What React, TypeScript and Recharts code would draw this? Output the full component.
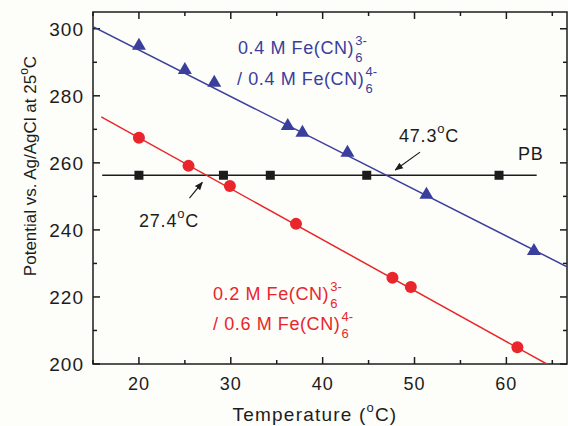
import React from 'react';
import { ComposedChart, Line, Scatter, XAxis, YAxis, Customized } from 'recharts';

// measured points (temperature in degC, potential in mV)
const blueTemps = [20, 25, 28.2, 36.2, 37.8, 42.7, 51.3, 63];
const bluePotentials = [295.2, 288, 284.2, 271.3, 269.3, 263.3, 250.8, 234];
const redTemps = [20, 25.4, 29.9, 37.1, 47.6, 49.6, 61.2];
const redPotentials = [267.5, 259.1, 253.1, 241.8, 225.7, 223, 205];
const pbTemps = [20, 29.2, 34.3, 44.8, 59.2];
const pbPotentials = [256.3, 256.3, 256.3, 256.3, 256.3];

// linear fits, end points
const blueFitTemps = [15, 66.6];
const blueFitPotentials = [300.6, 229];
const redFitTemps = [15.9, 64.4];
const redFitPotentials = [273.7, 200];
const pbFitTemps = [16, 63.3];
const pbFitPotentials = [256.3, 256.3];

const xTicks = [15, 20, 25, 30, 35, 40, 45, 50, 55, 60, 65];
const yTicks = [200, 210, 220, 230, 240, 250, 260, 270, 280, 290, 300];
const X_DOMAIN: [number, number] = [15, 66.6];
const Y_DOMAIN: [number, number] = [200, 305];

const zip = (xs: number[], ys: number[]) => xs.map((x, i) => ({ x, y: ys[i] }));

const blueData = zip(blueTemps, bluePotentials);
const redData = zip(redTemps, redPotentials);
const pbData = zip(pbTemps, pbPotentials);
const blueFit = zip(blueFitTemps, blueFitPotentials);
const redFit = zip(redFitTemps, redFitPotentials);
const pbFit = zip(pbFitTemps, pbFitPotentials);

const W = 568;
const H = 426;
const LEFT = 93;
const TOP = 12;
const RIGHT = 567;
const BOTTOM = 364;

const BLUE = '#3a3e9c';
const RED = '#e8262b';
const INK = '#1c1c1c';
const FONT = '"Liberation Sans", Arial, sans-serif';

// data -> pixel, used for the frame, ticks and annotations
const px = (t: number) => LEFT + ((t - X_DOMAIN[0]) / (X_DOMAIN[1] - X_DOMAIN[0])) * (RIGHT - LEFT);
const py = (v: number) => BOTTOM - ((v - Y_DOMAIN[0]) / (Y_DOMAIN[1] - Y_DOMAIN[0])) * (BOTTOM - TOP);

const Triangle = (props: any) => {
    const { cx, cy } = props;
    if (cx == null || cy == null) return null;
    return <polygon points={`${cx},${cy - 7} ${cx - 7},${cy + 5} ${cx + 7},${cy + 5}`} fill={BLUE} />;
};

const Dot = (props: any) => {
    const { cx, cy } = props;
    if (cx == null || cy == null) return null;
    return <circle cx={cx} cy={cy} r={6} fill={RED} />;
};

const Square = (props: any) => {
    const { cx, cy } = props;
    if (cx == null || cy == null) return null;
    return <rect x={cx - 4.5} y={cy - 4.5} width={9} height={9} fill={INK} />;
};

// "Fe(CN)6^3-" style label: stacked sub/superscript right after the main text
const Chem = ({ x, y, main, sup, sub, color }: any) => (
    <text x={x} y={y} fontFamily={FONT} fill={color} fontSize={18}>
        <tspan letterSpacing={0.6}>{main}</tspan>
        <tspan fontSize={13} dx={1} dy={-9}>{sup}</tspan>
        <tspan fontSize={13} dx={-11.6} dy={17}>{sub}</tspan>
    </text>
);

const Degree = ({ x, y, value }: any) => (
    <text x={x} y={y} fontSize={18} letterSpacing={0.8} fill={INK} fontFamily={FONT}>
        {value}
        <tspan fontSize={13} dy={-9}>o</tspan>
        <tspan dy={9}>C</tspan>
    </text>
);

const Frame = () => (
    <g stroke={INK} strokeWidth={1.5} fill="none">
        <rect x={LEFT} y={TOP} width={RIGHT - LEFT} height={BOTTOM - TOP} />
        {xTicks.map((t) => {
            const len = t % 10 === 0 ? 7 : 4;
            return (
                <g key={`x${t}`}>
                    <line x1={px(t)} x2={px(t)} y1={BOTTOM} y2={BOTTOM - len} />
                    <line x1={px(t)} x2={px(t)} y1={TOP} y2={TOP + len} />
                </g>
            );
        })}
        {yTicks.map((v) => {
            const len = v % 20 === 0 ? 7 : 4;
            return (
                <g key={`y${v}`}>
                    <line x1={LEFT} x2={LEFT + len} y1={py(v)} y2={py(v)} />
                    <line x1={RIGHT} x2={RIGHT - len} y1={py(v)} y2={py(v)} />
                </g>
            );
        })}
    </g>
);

const TickLabels = () => (
    <g fontFamily={FONT} fill={INK}>
        {xTicks.filter((t) => t % 10 === 0).map((t) => (
            <text key={`xl${t}`} x={px(t)} y={390} textAnchor="middle" fontSize={18} letterSpacing={1}>{t}</text>
        ))}
        {yTicks.filter((v) => v % 20 === 0).map((v) => (
            <text key={`yl${v}`} x={84} y={py(v) + 7} textAnchor="end" fontSize={19} letterSpacing={1}>{v}</text>
        ))}
    </g>
);

const Annotations = () => (
    <g>
        <defs>
            <marker id="arrowHead" viewBox="0 0 10 10" refX="9" refY="5" markerWidth="7" markerHeight="7" orient="auto">
                <path d="M0,1 L10,5 L0,9 z" fill={INK} />
            </marker>
        </defs>

        <Frame />
        <TickLabels />

        <Chem x={238} y={54} main="0.4 M Fe(CN)" sup="3-" sub="6" color={BLUE} />
        <Chem x={237} y={85} main="/ 0.4 M Fe(CN)" sup="4-" sub="6" color={BLUE} />
        <Chem x={213} y={300} main="0.2 M Fe(CN)" sup="3-" sub="6" color={RED} />
        <Chem x={213} y={330} main="/ 0.6 M Fe(CN)" sup="4-" sub="6" color={RED} />

        <Degree x={399} y={142} value="47.3" />
        <line x1={px(50.6)} y1={py(263.2)} x2={px(47.9)} y2={py(257.9)} stroke={INK} strokeWidth={1.2} markerEnd="url(#arrowHead)" />

        <Degree x={139} y={227} value="27.4" />
        <line x1={px(25.5)} y1={py(249.5)} x2={px(26.9)} y2={py(254.2)} stroke={INK} strokeWidth={1.2} markerEnd="url(#arrowHead)" />

        <text x={518} y={160} fontSize={18} letterSpacing={0.8} fill={INK} fontFamily={FONT}>PB</text>

        <text x={315} y={421} textAnchor="middle" fontSize={19} letterSpacing={1.2} fill={INK} fontFamily={FONT}>
            Temperature (<tspan fontSize={13} dy={-9}>o</tspan><tspan dy={9}>C)</tspan>
        </text>
        <text
            transform="translate(36,166) rotate(-90)"
            textAnchor="middle"
            fontSize={17}
            fill={INK}
            fontFamily={FONT}
        >
            Potential vs. Ag/AgCl at 25<tspan fontSize={12} dy={-8}>o</tspan><tspan dy={8}>C</tspan>
        </text>
    </g>
);

export default function App() {
    return (
        <div style={{ position: 'fixed', left: 0, top: 0, width: W, height: H, background: '#fdfdf9' }}>
            <ComposedChart width={W} height={H} margin={{ top: TOP, right: W - RIGHT, bottom: H - BOTTOM, left: LEFT }}>
                <XAxis xAxisId="bottom" type="number" dataKey="x" domain={X_DOMAIN} allowDataOverflow hide />
                <YAxis yAxisId="left" type="number" domain={Y_DOMAIN} allowDataOverflow hide />

                <Line xAxisId="bottom" yAxisId="left" data={pbFit} dataKey="y" stroke={INK} strokeWidth={1.5} dot={false} isAnimationActive={false} />
                <Line xAxisId="bottom" yAxisId="left" data={blueFit} dataKey="y" stroke={BLUE} strokeWidth={1.5} dot={false} isAnimationActive={false} />
                <Line xAxisId="bottom" yAxisId="left" data={redFit} dataKey="y" stroke={RED} strokeWidth={1.5} dot={false} isAnimationActive={false} />

                <Scatter xAxisId="bottom" yAxisId="left" data={pbData} dataKey="y" shape={<Square />} isAnimationActive={false} />
                <Scatter xAxisId="bottom" yAxisId="left" data={blueData} dataKey="y" shape={<Triangle />} isAnimationActive={false} />
                <Scatter xAxisId="bottom" yAxisId="left" data={redData} dataKey="y" shape={<Dot />} isAnimationActive={false} />

                <Customized component={<Annotations />} />
            </ComposedChart>
        </div>
    );
}
